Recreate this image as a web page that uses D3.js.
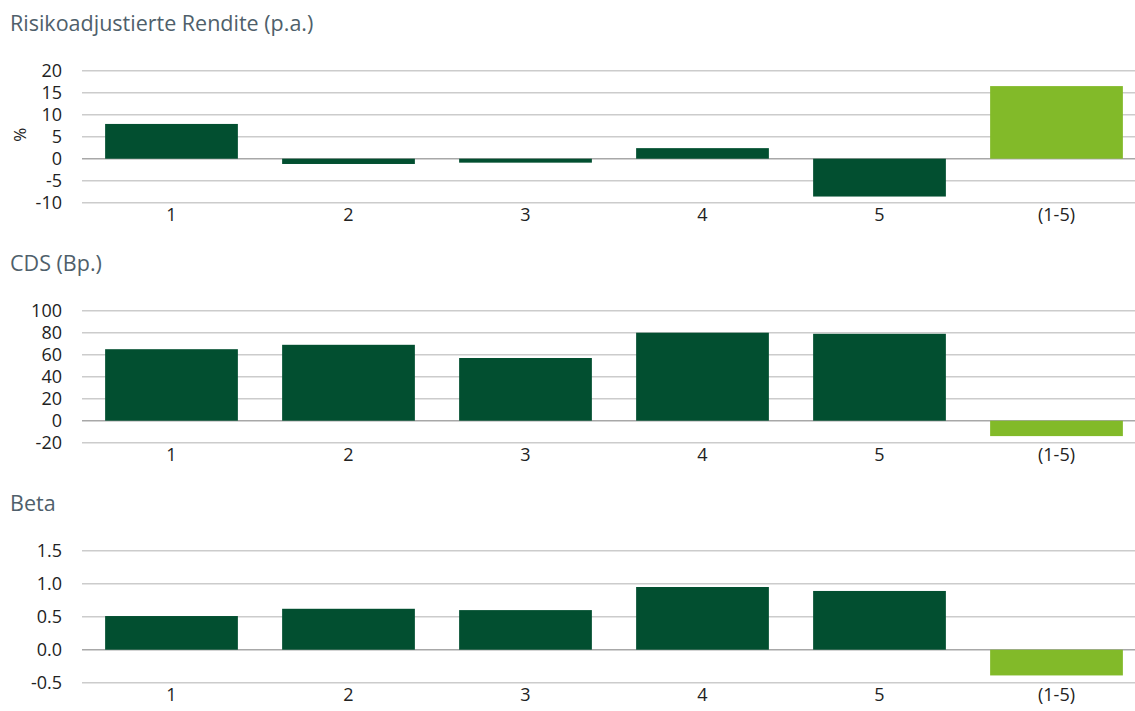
<!DOCTYPE html>
<html>
<head>
<meta charset="utf-8">
<script src="https://cdn.jsdelivr.net/npm/d3@7"></script>
<style>
  html, body { margin: 0; padding: 0; background: #fff; }
  svg { display: block; font-family: "Open Sans", "Noto Sans", sans-serif; }
</style>
</head>
<body>
<svg id="chart" width="1135" height="711"></svg>
<script>
// Portfolio categories (quintiles 1-5 and the long/short spread)
const categories = ["1", "2", "3", "4", "5", "(1-5)"];

// Risk-adjusted return, % p.a.
const returnValues = [7.9, -1.2, -0.9, 2.4, -8.6, 16.5];
const returnTicks = [-10, -5, 0, 5, 10, 15, 20];

// CDS spread, basis points
const cdsValues = [65, 69, 57, 80, 79, -14];
const cdsTicks = [-20, 0, 20, 40, 60, 80, 100];

// Beta
const betaValues = [0.51, 0.62, 0.6, 0.95, 0.89, -0.39];
const betaTicks = [-0.5, 0.0, 0.5, 1.0, 1.5];

const darkGreen = "#024f30";
const lightGreen = "#82ba29";

const svg = d3.select("#chart");

// plain hyphen for negative numbers
const fmt = spec => {
  const f = d3.format(spec);
  return d => f(d).replace("\u2212", "-");
};

const x = d3.scaleBand()
  .domain(categories)
  .range([83, 1145])
  .paddingInner(0.25)
  .paddingOuter(0.125);

function panel(opts) {
  const g = svg.append("g");

  g.append("text")
    .attr("x", 10)
    .attr("y", opts.titleY)
    .attr("fill", "#4f5f6b")
    .attr("font-size", 21.5)
    .text(opts.title);

  const y = d3.scaleLinear()
    .domain([opts.ticks[0], opts.ticks[opts.ticks.length - 1]])
    .range([opts.bottom, opts.top]);

  // horizontal gridlines
  g.append("g")
    .selectAll("line")
    .data(opts.ticks)
    .join("line")
    .attr("x1", 82)
    .attr("x2", 1135)
    .attr("y1", d => y(d))
    .attr("y2", d => y(d))
    .attr("stroke", d => d === 0 ? "#a8a8a8" : "#cccccc")
    .attr("stroke-width", 1.5);

  // y tick labels
  const yAxis = d3.axisLeft(y)
    .tickValues(opts.ticks)
    .tickFormat(opts.format)
    .tickSize(0)
    .tickPadding(0);
  const ya = g.append("g")
    .attr("transform", "translate(62,0)")
    .call(yAxis);
  ya.select(".domain").remove();
  ya.selectAll("text")
    .attr("font-size", 18)
    .attr("font-family", "'Open Sans', 'Noto Sans', sans-serif")
    .attr("fill", "#222");

  if (opts.unit) {
    const cy = (opts.top + opts.bottom) / 2 - 2;
    g.append("text")
      .attr("transform", `translate(26,${cy}) rotate(-90)`)
      .attr("text-anchor", "middle")
      .attr("font-size", 17)
      .attr("fill", "#222")
      .text(opts.unit);
  }

  // bars
  g.append("g")
    .selectAll("rect")
    .data(opts.values)
    .join("rect")
    .attr("x", (d, i) => x(categories[i]))
    .attr("width", x.bandwidth())
    .attr("y", d => y(Math.max(0, d)))
    .attr("height", d => Math.abs(y(d) - y(0)))
    .attr("fill", (d, i) => i === categories.length - 1 ? lightGreen : darkGreen);

  // x category labels
  const xAxis = d3.axisBottom(x).tickSize(0).tickPadding(0);
  const xa = g.append("g")
    .attr("transform", `translate(0,${opts.bottom + 6})`)
    .call(xAxis);
  xa.select(".domain").remove();
  xa.selectAll("text")
    .attr("font-size", 18)
    .attr("font-family", "'Open Sans', 'Noto Sans', sans-serif")
    .attr("fill", "#222");
}

panel({
  title: "Risikoadjustierte Rendite (p.a.)",
  titleY: 31,
  values: returnValues,
  ticks: returnTicks,
  top: 70.7,
  bottom: 202.7,
  format: fmt("d"),
  unit: "%"
});

panel({
  title: "CDS (Bp.)",
  titleY: 271,
  values: cdsValues,
  ticks: cdsTicks,
  top: 310.7,
  bottom: 442.7,
  format: fmt("d")
});

panel({
  title: "Beta",
  titleY: 511,
  values: betaValues,
  ticks: betaTicks,
  top: 550.7,
  bottom: 682.7,
  format: fmt(".1f")
});
</script>
</body>
</html>
